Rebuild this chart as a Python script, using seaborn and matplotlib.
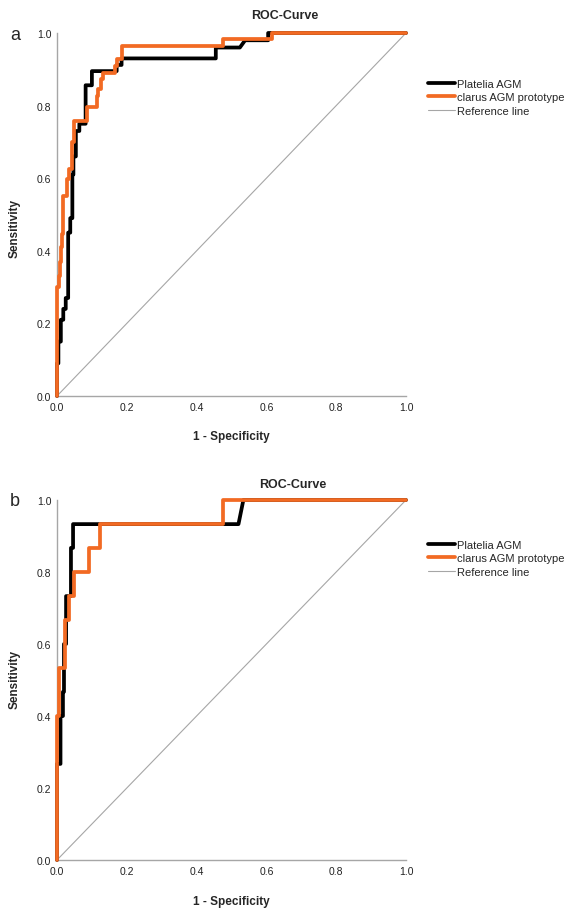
import matplotlib
matplotlib.use("Agg")
import matplotlib.pyplot as plt
import seaborn as sns

# ROC coordinates (1 - specificity, sensitivity)
a_platelia_fpr = [0, 0, 0.004, 0.004, 0.011, 0.011, 0.018, 0.018, 0.025, 0.025, 0.032, 0.032,
                  0.038, 0.038, 0.044, 0.044, 0.047, 0.047, 0.054, 0.054, 0.064, 0.064,
                  0.082, 0.082, 0.100, 0.100, 0.171, 0.171, 0.185, 0.185, 0.455, 0.455,
                  0.524, 0.539, 0.605, 0.605, 1.0]
a_platelia_tpr = [0, 0.09, 0.09, 0.15, 0.15, 0.21, 0.21, 0.24, 0.24, 0.27, 0.27, 0.45,
                  0.45, 0.49, 0.49, 0.61, 0.61, 0.66, 0.66, 0.73, 0.73, 0.75,
                  0.75, 0.856, 0.856, 0.895, 0.895, 0.912, 0.912, 0.93, 0.93, 0.96,
                  0.96, 0.98, 0.98, 1.0, 1.0]

a_clarus_fpr = [0, 0, 0.006, 0.006, 0.009, 0.009, 0.011, 0.011, 0.015, 0.015, 0.018, 0.018,
                0.028, 0.028, 0.035, 0.035, 0.042, 0.042, 0.049, 0.049, 0.085, 0.085,
                0.114, 0.114, 0.118, 0.118, 0.125, 0.125, 0.133, 0.133, 0.166, 0.166,
                0.171, 0.171, 0.185, 0.185, 0.477, 0.477, 0.615, 0.615, 1.0]
a_clarus_tpr = [0, 0.30, 0.30, 0.33, 0.33, 0.37, 0.37, 0.41, 0.41, 0.445, 0.445, 0.55,
                0.55, 0.597, 0.597, 0.625, 0.625, 0.70, 0.70, 0.758, 0.758, 0.795,
                0.795, 0.827, 0.827, 0.845, 0.845, 0.873, 0.873, 0.891, 0.891, 0.91,
                0.91, 0.928, 0.928, 0.965, 0.965, 0.983, 0.983, 1.0, 1.0]

b_platelia_fpr = [0, 0, 0.010, 0.010, 0.017, 0.017, 0.020, 0.020, 0.026, 0.026,
                  0.040, 0.040, 0.046, 0.046, 0.520, 0.534, 1.0]
b_platelia_tpr = [0, 0.267, 0.267, 0.40, 0.40, 0.467, 0.467, 0.60, 0.60, 0.733,
                  0.733, 0.867, 0.867, 0.933, 0.933, 1.0, 1.0]

b_clarus_fpr = [0, 0, 0.005, 0.005, 0.023, 0.023, 0.035, 0.035, 0.050, 0.050,
                0.093, 0.093, 0.123, 0.123, 0.475, 0.475, 1.0]
b_clarus_tpr = [0, 0.40, 0.40, 0.533, 0.533, 0.667, 0.667, 0.733, 0.733, 0.80,
                0.80, 0.867, 0.867, 0.933, 0.933, 1.0, 1.0]

ref_line = [0, 1]
ticks = [0.0, 0.2, 0.4, 0.6, 0.8, 1.0]
labels = ['Platelia AGM', 'clarus AGM prototype', 'Reference line']

ORANGE = '#F26A23'
GREY = '#A6A6A6'

sns.set_style('white')
plt.rcParams['font.family'] = ['Liberation Sans', 'DejaVu Sans']

fig = plt.figure(figsize=(5.69, 9.12), dpi=100)
W, H = 569, 912

panels = [
    ('a', (57, 34, 406, 397), a_platelia_fpr, a_platelia_tpr, a_clarus_fpr, a_clarus_tpr, 0.500, 16, 228, 437, 80),
    ('b', (57, 501, 406, 861), b_platelia_fpr, b_platelia_tpr, b_clarus_fpr, b_clarus_tpr, 0.515, 485, 680, 902, 541),
]

for letter, box, pf, pt, cf, ct, tx, ty, sy, xy, ly in panels:
    x0, y0, x1, y1 = box
    ax = fig.add_axes([x0 / W, 1 - y1 / H, (x1 - x0) / W, (y1 - y0) / H])
    sns.lineplot(x=pf, y=pt, sort=False, estimator=None, color='black', lw=2.7,
                 ax=ax, label=labels[0], zorder=3, clip_on=False)
    sns.lineplot(x=cf, y=ct, sort=False, estimator=None, color=ORANGE, lw=2.7,
                 ax=ax, label=labels[1], zorder=4, clip_on=False)
    sns.lineplot(x=ref_line, y=ref_line, sort=False, estimator=None, color=GREY, lw=0.8,
                 ax=ax, label=labels[2], zorder=2)
    ax.set_xlim(0, 1)
    ax.set_ylim(0, 1)
    ax.set_xticks(ticks)
    ax.set_yticks(ticks)
    ax.set_xticklabels([f'{t:.1f}' for t in ticks])
    ax.set_yticklabels([f'{t:.1f}' for t in ticks])
    ax.tick_params(labelsize=7.5, labelcolor='#222222', length=2, width=0.6, pad=2, color=GREY)
    for s in ['top', 'right']:
        ax.spines[s].set_visible(False)
    for s in ['left', 'bottom']:
        ax.spines[s].set_color(GREY)
        ax.spines[s].set_linewidth(1.0)
    ax.set_xlabel('')
    ax.set_ylabel('')
    handles, labs = ax.get_legend_handles_labels()
    ax.get_legend().remove()

    fig.text(tx, 1 - ty / H, 'ROC-Curve', ha='center', va='center', fontsize=9, fontweight='bold')
    fig.text(15 / W, 1 - sy / H, 'Sensitivity', ha='center', va='center', rotation=90,
             fontsize=8.5, fontweight='bold')
    fig.text((x0 + x1) / 2 / W, 1 - xy / H, '1 - Specificity', ha='center', va='center',
             fontsize=8.5, fontweight='bold')
    fig.text(15 / W, 1 - (y0 + 1) / H, letter, ha='center', va='center', fontsize=13)

    fig.legend(handles, labs, loc='upper left', bbox_to_anchor=(428 / W, 1 - ly / H),
               frameon=False, fontsize=8, handlelength=2.4, handletextpad=0.2,
               labelspacing=0.3, borderpad=0, borderaxespad=0)

fig.savefig('out.png', dpi=100)
